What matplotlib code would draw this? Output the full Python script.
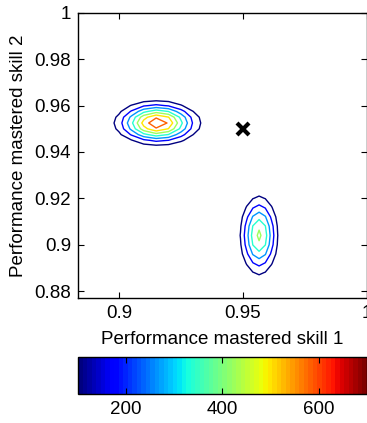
import numpy as np
import matplotlib
matplotlib.use('Agg')
import matplotlib.pyplot as plt
from matplotlib import colors
from matplotlib.cm import ScalarMappable

plt.rcParams['font.family'] = ['Liberation Sans', 'DejaVu Sans']
plt.rcParams['font.size'] = 13.5

# blob around (0.915, 0.9525) - values
left_x = [0.895, 0.900, 0.905, 0.910, 0.915, 0.920, 0.925, 0.930, 0.935, 0.940]
left_y = [0.940, 0.9425, 0.945, 0.9475, 0.950, 0.9525, 0.955, 0.9575, 0.960, 0.9625, 0.965]
left_z = [
    [2, 5, 12, 20, 25, 22, 14, 6, 2, 1],
    [5, 17, 39, 66, 80, 70, 44, 20, 7, 2],
    [10, 36, 92, 160, 199, 178, 114, 53, 18, 4],
    [25, 81, 188, 316, 384, 337, 214, 99, 33, 8],
    [38, 120, 279, 469, 569, 497, 318, 146, 49, 12],
    [43, 137, 318, 534, 649, 570, 362, 166, 55, 13],
    [38, 120, 279, 469, 569, 503, 318, 146, 49, 12],
    [25, 81, 188, 316, 384, 337, 214, 99, 33, 8],
    [15, 48, 105, 170, 199, 172, 108, 48, 15, 4],
    [5, 17, 39, 66, 80, 70, 44, 20, 7, 2],
    [2, 5, 12, 20, 25, 22, 14, 6, 2, 1],
]

# blob around (0.9565, 0.904)
right_x = [0.944, 0.9465, 0.949, 0.9515, 0.954, 0.9565, 0.959, 0.9615, 0.964, 0.9665, 0.969]
right_y = [0.880, 0.884, 0.888, 0.892, 0.896, 0.900, 0.904, 0.908, 0.912, 0.916, 0.920, 0.924, 0.928]
right_z = [
    [0, 2, 5, 11, 18, 21, 18, 11, 5, 2, 0],
    [1, 4, 12, 28, 46, 54, 46, 28, 12, 4, 1],
    [2, 8, 26, 60, 97, 115, 97, 60, 26, 8, 2],
    [3, 15, 47, 107, 175, 207, 175, 107, 47, 15, 3],
    [5, 23, 72, 163, 267, 314, 267, 163, 72, 23, 5],
    [7, 29, 92, 210, 343, 405, 343, 210, 92, 29, 7],
    [7, 32, 104, 228, 373, 440, 373, 228, 101, 32, 7],
    [7, 29, 92, 210, 343, 405, 343, 210, 92, 29, 7],
    [5, 23, 72, 163, 267, 314, 267, 163, 72, 23, 5],
    [3, 15, 47, 107, 175, 207, 175, 107, 47, 15, 3],
    [2, 8, 26, 60, 97, 115, 97, 60, 26, 8, 2],
    [1, 4, 12, 28, 46, 54, 46, 28, 12, 4, 1],
    [0, 2, 5, 11, 18, 21, 18, 11, 5, 2, 0],
]

levels = [100, 180, 260, 340, 420, 500, 580]
target_x, target_y = 0.95, 0.95

xticks = [0.9, 0.95, 1.0]
xticklabels = ['0.9', '0.95', '1']
yticks = [0.88, 0.90, 0.92, 0.94, 0.96, 0.98, 1.0]
yticklabels = ['0.88', '0.9', '0.92', '0.94', '0.96', '0.98', '1']
cbar_min, cbar_max = 100, 700
cbar_ticks = [200, 400, 600]

cmap = plt.get_cmap('jet', 64)
norm = colors.Normalize(cbar_min, cbar_max)

fig = plt.figure(figsize=(3.67, 4.23), dpi=100)
ax = fig.add_axes([0.2125, 0.2955, 0.7875, 0.674])

ax.contour(left_x, left_y, left_z, levels=levels, cmap=cmap, norm=norm, linewidths=1)
ax.contour(right_x, right_y, right_z, levels=levels, cmap=cmap, norm=norm, linewidths=1)
ax.plot(target_x, target_y, 'x', color='black', markersize=9, markeredgewidth=3)

ax.set_xlim(0.8835, 1.0)
ax.set_ylim(0.877, 1.0)
ax.set_xticks(xticks)
ax.set_xticklabels(xticklabels)
ax.set_yticks(yticks)
ax.set_yticklabels(yticklabels)
ax.tick_params(direction='in', top=True, right=True, length=4, width=0.8, pad=5)
for s in ax.spines.values():
    s.set_linewidth(1)
ax.set_xlabel('Performance mastered skill 1')
ax.set_ylabel('Performance mastered skill 2')
ax.xaxis.set_label_coords(0.5, -0.115)
ax.yaxis.set_label_coords(-0.175, 0.5)

cax = fig.add_axes([0.2125, 0.0674, 0.7875, 0.0875])
cb = fig.colorbar(ScalarMappable(norm=norm, cmap=cmap), cax=cax, orientation='horizontal')
cb.set_ticks(cbar_ticks)
cb.set_ticklabels([str(t) for t in cbar_ticks])
cax.tick_params(direction='in', top=True, bottom=True, length=4, width=0.8, pad=5)
cb.outline.set_linewidth(1)

fig.savefig('out.png', dpi=100)
